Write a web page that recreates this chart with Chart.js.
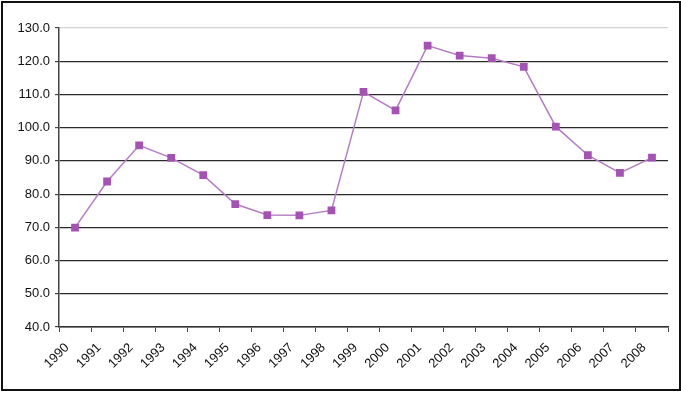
<!DOCTYPE html>
<html lang="en">
<head>
    <meta charset="UTF-8">
    <title>Index 1990-2008</title>
    <script src="https://cdn.jsdelivr.net/npm/chart.js"></script>
    <style>
        body {
            margin: 0;
            background: #fff;
            font-family: "Liberation Sans", Arial, sans-serif;
        }
        #box {
            position: absolute;
            left: 1px;
            top: 1px;
            width: 676px;
            height: 386px;
            border: 2px solid #111;
        }
    </style>
</head>
<body>
    <div id="box"><canvas id="chart"></canvas></div>

    <script>
        // data
        const years = ['1990', '1991', '1992', '1993', '1994', '1995', '1996', '1997', '1998', '1999',
                       '2000', '2001', '2002', '2003', '2004', '2005', '2006', '2007', '2008'];
        const values = [69.9, 83.8, 94.7, 90.9, 85.7, 77.0, 73.7, 73.6, 75.1, 110.8,
                        105.2, 124.7, 121.7, 120.9, 118.3, 100.3, 91.7, 86.4, 91.0];
        const yMin = 40;
        const yMax = 130;
        const yStep = 10;

        Chart.defaults.font.family = '"Liberation Sans", Arial, sans-serif';
        Chart.defaults.font.size = 13;
        Chart.defaults.color = '#111';

        new Chart(document.getElementById('chart'), {
            type: 'line',
            data: {
                labels: years,
                datasets: [{
                    data: values,
                    borderColor: '#b57cc6',
                    borderWidth: 1.5,
                    backgroundColor: '#a453b4',
                    pointBackgroundColor: '#a453b4',
                    pointBorderColor: '#a453b4',
                    pointStyle: 'rect',
                    pointRadius: 5.5,
                    pointBorderWidth: 0,
                    tension: 0,
                    fill: false
                }]
            },
            options: {
                responsive: true,
                maintainAspectRatio: false,
                animation: false,
                layout: { padding: { top: 25, right: 11, left: 0, bottom: 0 } },
                plugins: {
                    legend: { display: false },
                    tooltip: { enabled: false }
                },
                scales: {
                    x: {
                        offset: true,
                        grid: {
                            offset: true,
                            drawOnChartArea: false,
                            drawTicks: true,
                            tickLength: 5,
                            color: '#444'
                        },
                        border: { color: '#333', width: 1.5 },
                        ticks: {
                            maxRotation: 45,
                            minRotation: 45,
                            autoSkip: false,
                            padding: 8,
                            labelOffset: -8,
                            color: '#111'
                        },
                        afterFit: function (scale) { scale.height = 62; }
                    },
                    y: {
                        min: yMin,
                        max: yMax,
                        ticks: {
                            stepSize: yStep,
                            padding: 5,
                            color: '#111',
                            callback: function (v) { return v.toFixed(1); }
                        },
                        grid: {
                            color: function (ctx) { return ctx.tick && ctx.tick.value === yMax ? '#d4d4d4' : '#2a2a2a'; },
                            tickLength: 4,
                            tickColor: '#444',
                            lineWidth: 1.2
                        },
                        border: { color: '#444', width: 1.5 },
                        afterFit: function (scale) { scale.width = 56; }
                    }
                }
            }
        });
    </script>
</body>
</html>
